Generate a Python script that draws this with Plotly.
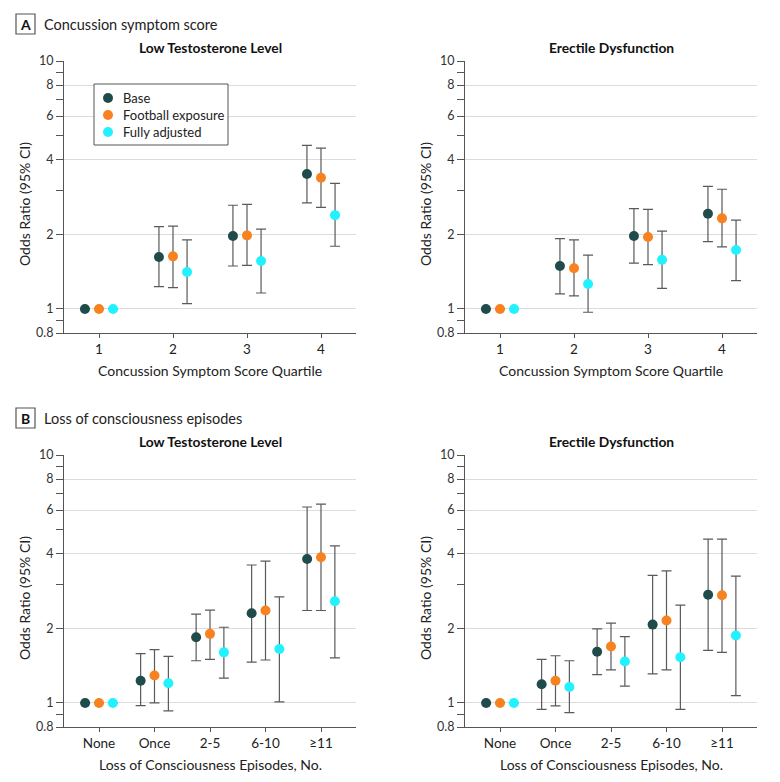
import plotly.graph_objects as go

# ---------------- data ----------------
series_names = ["Base", "Football exposure", "Fully adjusted"]
series_colors = ["#1f4b4a", "#f7821f", "#22f2ff"]

# Panel A: concussion symptom score quartile
a_categories = ["1", "2", "3", "4"]
# Low testosterone
a_lt_or = {
    "Base": [1.0, 1.62, 1.97, 3.50],
    "Football exposure": [1.0, 1.63, 1.98, 3.38],
    "Fully adjusted": [1.0, 1.41, 1.56, 2.39],
}
a_lt_lo = {
    "Base": [None, 1.23, 1.49, 2.68],
    "Football exposure": [None, 1.22, 1.50, 2.57],
    "Fully adjusted": [None, 1.05, 1.16, 1.79],
}
a_lt_hi = {
    "Base": [None, 2.15, 2.62, 4.57],
    "Football exposure": [None, 2.16, 2.64, 4.45],
    "Fully adjusted": [None, 1.90, 2.10, 3.21],
}
# Erectile dysfunction
a_ed_or = {
    "Base": [1.0, 1.49, 1.97, 2.42],
    "Football exposure": [1.0, 1.46, 1.95, 2.32],
    "Fully adjusted": [1.0, 1.26, 1.58, 1.73],
}
a_ed_lo = {
    "Base": [None, 1.15, 1.53, 1.87],
    "Football exposure": [None, 1.13, 1.51, 1.78],
    "Fully adjusted": [None, 0.97, 1.21, 1.30],
}
a_ed_hi = {
    "Base": [None, 1.92, 2.54, 3.12],
    "Football exposure": [None, 1.90, 2.52, 3.04],
    "Fully adjusted": [None, 1.65, 2.06, 2.28],
}

# Panel B: loss of consciousness episodes
b_categories = ["None", "Once", "2-5", "6-10", "≥11"]
b_lt_or = {
    "Base": [1.0, 1.23, 1.84, 2.30, 3.81],
    "Football exposure": [1.0, 1.29, 1.90, 2.36, 3.87],
    "Fully adjusted": [1.0, 1.20, 1.60, 1.65, 2.57],
}
b_lt_lo = {
    "Base": [None, 0.975, 1.48, 1.46, 2.36],
    "Football exposure": [None, 1.00, 1.50, 1.49, 2.36],
    "Fully adjusted": [None, 0.93, 1.26, 1.01, 1.52],
}
b_lt_hi = {
    "Base": [None, 1.58, 2.28, 3.60, 6.17],
    "Football exposure": [None, 1.64, 2.37, 3.73, 6.34],
    "Fully adjusted": [None, 1.54, 2.02, 2.68, 4.30],
}
b_ed_or = {
    "Base": [1.0, 1.19, 1.61, 2.07, 2.73],
    "Football exposure": [1.0, 1.23, 1.69, 2.15, 2.72],
    "Fully adjusted": [1.0, 1.16, 1.47, 1.53, 1.87],
}
b_ed_lo = {
    "Base": [None, 0.943, 1.30, 1.31, 1.63],
    "Football exposure": [None, 0.973, 1.36, 1.36, 1.60],
    "Fully adjusted": [None, 0.914, 1.17, 0.943, 1.07],
}
b_ed_hi = {
    "Base": [None, 1.50, 1.99, 3.27, 4.58],
    "Football exposure": [None, 1.55, 2.10, 3.41, 4.58],
    "Fully adjusted": [None, 1.48, 1.85, 2.48, 3.25],
}

y_major = [0.8, 1, 2, 4, 6, 8, 10]
y_major_text = ["0.8", "1", "2", "4", "6", "8", "10"]
y_minor = [0.9, 3, 5, 7, 9]

# ---------------- figure ----------------
W, H = 780, 782
OFF = 8  # page offset of the figure inside the browser window
FONT = "Lato, sans-serif"
TXT = "#222222"
fig = go.Figure()

def px_x(p):
    return (p - OFF) / W

def px_y(p):
    return 1 - (p - OFF) / H

panels = [
    ("", (64, 356), (61, 333), a_categories, a_lt_or, a_lt_lo, a_lt_hi, 0.19),
    ("2", (465, 757), (61, 333), a_categories, a_ed_or, a_ed_lo, a_ed_hi, 0.19),
    ("3", (64, 356), (455, 727), b_categories, b_lt_or, b_lt_lo, b_lt_hi, 0.25),
    ("4", (465, 757), (455, 727), b_categories, b_ed_or, b_ed_lo, b_ed_hi, 0.25),
]

for ax, xd, yd, cats, ors, los, his, off in panels:
    n = len(cats)
    for k, name in enumerate(series_names):
        shift = (k - 1) * off
        xs = [i + shift for i in range(n)]
        vals = ors[name]
        up = [(h - v) if h is not None else 0 for v, h in zip(vals, his[name])]
        dn = [(v - l) if l is not None else 0 for v, l in zip(vals, los[name])]
        fig.add_trace(go.Scatter(
            x=xs, y=vals, mode="markers", name=name,
            marker=dict(size=10, color=series_colors[k], line=dict(width=0)),
            error_y=dict(type="data", symmetric=False, array=up, arrayminus=dn,
                         color="#5a5a5a", thickness=1.2, width=5),
            xaxis="x" + ax, yaxis="y" + ax, showlegend=False,
            cliponaxis=False,
        ))
    pad = 35 / ((xd[1] - xd[0] - 70) / (n - 1))
    fig.layout["xaxis" + ax] = dict(
        domain=[px_x(xd[0]), px_x(xd[1])], anchor="y" + ax, automargin=False,
        range=[-pad, n - 1 + pad], tickvals=list(range(n)), ticktext=cats,
        showgrid=False, zeroline=False, showline=True, linecolor="#555555",
        linewidth=1.2, ticks="outside", ticklen=4, tickcolor="#555555", tickwidth=1,
        tickfont=dict(family=FONT, size=13.5, color=TXT),
    )
    fig.layout["yaxis" + ax] = dict(
        domain=[px_y(yd[1]), px_y(yd[0])], anchor="x" + ax, type="log", automargin=False,
        range=[-0.09691, 1.0], tickvals=y_major, ticktext=y_major_text,
        showgrid=True, gridcolor="#dcdcdc", gridwidth=1.2, zeroline=False,
        showline=True, linecolor="#555555", linewidth=1.2,
        ticks="outside", ticklen=7, tickcolor="#555555", tickwidth=1,
        minor=dict(tickvals=y_minor, ticks="outside", ticklen=7,
                   tickcolor="#555555", tickwidth=1, showgrid=False),
        tickfont=dict(family=FONT, size=12.5, color="#333333"),
    )

annotations = []
shapes = []
# subplot titles
for text, xc, yc in [("Low Testosterone Level", 210, 47), ("Erectile Dysfunction", 611, 47),
                     ("Low Testosterone Level", 210, 441), ("Erectile Dysfunction", 611, 441)]:
    annotations.append(dict(text="<b>" + text + "</b>", x=px_x(xc), y=px_y(yc), xref="paper",
                            yref="paper", showarrow=False, xanchor="center", yanchor="middle",
                            font=dict(family=FONT, size=13.8, color="#111111")))
# axis titles
for text, xc, yc in [("Concussion Symptom Score Quartile", 210, 370),
                     ("Concussion Symptom Score Quartile", 611, 370),
                     ("Loss of Consciousness Episodes, No.", 210, 764),
                     ("Loss of Consciousness Episodes, No.", 611, 764)]:
    annotations.append(dict(text=text, x=px_x(xc), y=px_y(yc), xref="paper", yref="paper",
                            showarrow=False, xanchor="center", yanchor="middle",
                            font=dict(family=FONT, size=14, color=TXT)))
for xc, yc in [(24, 204), (425, 204), (24, 598), (425, 598)]:
    annotations.append(dict(text="Odds Ratio (95% CI)", x=px_x(xc), y=px_y(yc), xref="paper",
                            yref="paper", showarrow=False, textangle=-90, xanchor="center",
                            yanchor="middle", font=dict(family=FONT, size=14, color=TXT)))
# panel labels
for letter, label, y0, y1 in [("A", "Concussion symptom score", 14, 34),
                              ("B", "Loss of consciousness episodes", 408, 428)]:
    shapes.append(dict(type="rect", xref="paper", yref="paper", x0=px_x(16), x1=px_x(35),
                       y0=px_y(y1), y1=px_y(y0), line=dict(color="#555555", width=1.2)))
    annotations.append(dict(text="<b>" + letter + "</b>", x=px_x(25.5), y=px_y((y0 + y1) / 2),
                            xref="paper", yref="paper", showarrow=False, xanchor="center",
                            yanchor="middle", font=dict(family=FONT, size=14, color="#111111")))
    annotations.append(dict(text=label, x=px_x(42), y=px_y((y0 + y1) / 2), xref="paper",
                            yref="paper", showarrow=False, xanchor="left", yanchor="middle",
                            font=dict(family=FONT, size=14.5, color=TXT)))

# legend (drawn as a box with keyed entries)
shapes.append(dict(type="rect", xref="paper", yref="paper", x0=px_x(94), x1=px_x(228),
                   y0=px_y(145), y1=px_y(84), line=dict(color="#555555", width=1),
                   fillcolor="white", layer="above"))
for k, name in enumerate(series_names):
    yc = 98 + 17 * k
    shapes.append(dict(type="circle", xref="paper", yref="paper",
                       x0=px_x(103), x1=px_x(113), y0=px_y(yc + 5), y1=px_y(yc - 5),
                       fillcolor=series_colors[k], line=dict(width=0), layer="above"))
    annotations.append(dict(text=name, x=px_x(121), y=px_y(yc), xref="paper", yref="paper",
                            showarrow=False, xanchor="left", yanchor="middle",
                            font=dict(family=FONT, size=13, color=TXT)))

fig.update_layout(
    width=W, height=H, margin=dict(l=0, r=0, t=0, b=0, autoexpand=False),
    plot_bgcolor="white", paper_bgcolor="white", showlegend=False,
    annotations=annotations, shapes=shapes,
    font=dict(family=FONT),
)

fig.write_html("out.html")
